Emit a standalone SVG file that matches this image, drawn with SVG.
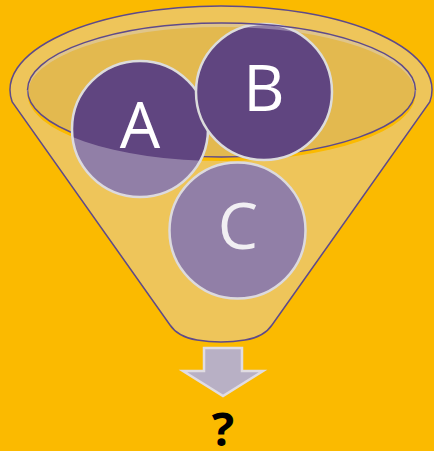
<svg xmlns="http://www.w3.org/2000/svg" width="434" height="451" viewBox="0 0 434 451">
  <defs>
    <style>
      .outline { fill: none; stroke: #5E4A8A; stroke-width: 1.5; }
      .ball { fill: #604580; stroke: #DCDCDC; stroke-width: 2.5; }
      .letter { font-family: "Open Sans", "Noto Sans", sans-serif; font-size: 64px; fill: #FFFFFF; text-anchor: middle; }
      .body { fill: #DCD7E1; fill-opacity: 0.4; fill-rule: evenodd; }
    </style>
  </defs>
  <rect x="0" y="0" width="434" height="451" fill="#FBBA00"/>
  <g id="funnel-back">
    <ellipse cx="221.5" cy="90" rx="194" ry="67" fill="#E3B94F"/>
    <path class="outline" d="M 27.5,90 A 194 67 0 0 0 415.5,90"/>
  </g>
  <g id="node-A">
    <circle class="ball" cx="140" cy="129" r="68"/>
    <text class="letter" x="140" y="148">A</text>
  </g>
  <g id="node-B">
    <circle class="ball" cx="264" cy="92" r="68"/>
    <text class="letter" x="264" y="111">B</text>
  </g>
  <g id="node-C">
    <circle class="ball" cx="237.5" cy="230.5" r="68"/>
    <text class="letter" x="238" y="249">C</text>
  </g>
  <g id="funnel">
    <path class="body" d="M 12.2,102 A 211 84 0 1 1 429.8,102 L 272,325 Q 264,337 245,340 Q 221,344 197,340 Q 178,337 170,325 Z M 27.5,94 A 194 67 0 1 0 415.5,94 A 194 67 0 1 0 27.5,94 Z"/>
    <path class="outline" d="M 12.2,102 A 211 84 0 1 1 429.8,102 L 272,325 Q 264,337 245,340 Q 221,344 197,340 Q 178,337 170,325 Z"/>
    <path class="outline" d="M 27.5,90 A 194 67 0 0 1 415.5,90"/>
  </g>
  <g id="connectors">
    <polygon points="204,348 242,348 242,371 263,371 223,396 183,371 204,371" fill="#B8B0C5" stroke="#E0DCE2" stroke-width="2.5" stroke-linejoin="miter"/>
  </g>
  <g id="node-result">
    <text x="223" y="446" font-family="'Open Sans', 'Noto Sans', sans-serif" font-size="47" font-weight="bold" fill="#000000" text-anchor="middle">?</text>
  </g>
</svg>
